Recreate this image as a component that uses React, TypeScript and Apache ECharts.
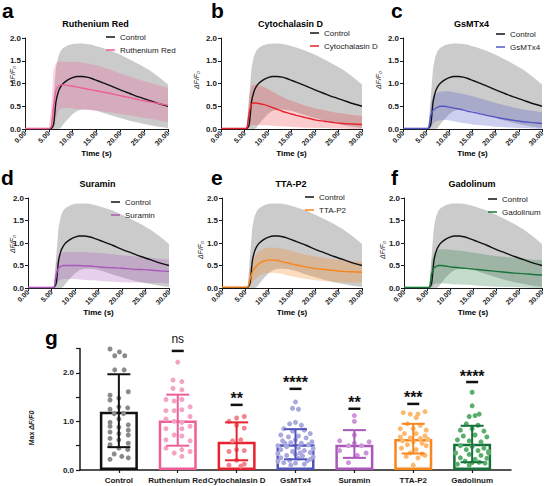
import React, { useEffect, useRef } from 'react';
import * as echarts from 'echarts';

// ---------- time-course data (ΔF/F0), shared time grid in seconds ----------
const TIME = [0, 1, 2, 3, 4, 5, 5.5, 6, 6.5, 7, 7.5, 8, 9, 10, 11, 12, 13, 14, 15, 16, 18, 20, 22, 24, 26, 28, 30];

const CTRL_MEAN = [0, 0, 0, 0, 0, 0, 0.01, 0.1, 0.6, 0.82, 0.93, 1.0, 1.08, 1.13, 1.155, 1.155, 1.14, 1.11, 1.07, 1.03, 0.95, 0.86, 0.78, 0.7, 0.63, 0.56, 0.5];
const CTRL_UP = [0.02, 0.02, 0.02, 0.02, 0.02, 0.02, 0.03, 0.7, 1.35, 1.6, 1.72, 1.78, 1.84, 1.87, 1.88, 1.88, 1.87, 1.85, 1.82, 1.79, 1.72, 1.63, 1.53, 1.42, 1.3, 1.15, 0.98];
const CTRL_LO = [0, 0, 0, 0, 0, 0, 0, 0, 0, 0, 0.02, 0.1, 0.22, 0.33, 0.4, 0.43, 0.43, 0.42, 0.4, 0.37, 0.3, 0.24, 0.18, 0.13, 0.09, 0.05, 0.02];

const RR_MEAN = [0.01, 0.01, 0.01, 0.01, 0.01, 0.01, 0.05, 0.5, 0.85, 0.94, 0.97, 0.97, 0.96, 0.94, 0.92, 0.9, 0.88, 0.86, 0.84, 0.82, 0.78, 0.73, 0.69, 0.64, 0.6, 0.56, 0.52];
const RR_UP = [0.03, 0.03, 0.03, 0.03, 0.03, 0.03, 0.5, 1.3, 1.45, 1.48, 1.48, 1.48, 1.48, 1.48, 1.47, 1.46, 1.44, 1.42, 1.4, 1.37, 1.3, 1.22, 1.15, 1.08, 1.02, 0.96, 0.9];
const RR_LO = [0, 0, 0, 0, 0, 0, 0, 0, 0.2, 0.4, 0.45, 0.46, 0.46, 0.45, 0.44, 0.43, 0.42, 0.41, 0.4, 0.39, 0.36, 0.33, 0.3, 0.26, 0.23, 0.19, 0.15];

const CYT_MEAN = [0.01, 0.01, 0.01, 0.01, 0.01, 0.01, 0.02, 0.35, 0.55, 0.57, 0.57, 0.56, 0.54, 0.51, 0.47, 0.43, 0.39, 0.36, 0.33, 0.3, 0.25, 0.2, 0.17, 0.14, 0.12, 0.11, 0.1];
const CYT_UP = [0.03, 0.03, 0.03, 0.03, 0.03, 0.03, 0.05, 0.75, 0.95, 0.97, 0.97, 0.96, 0.93, 0.88, 0.82, 0.76, 0.71, 0.66, 0.62, 0.58, 0.51, 0.45, 0.41, 0.37, 0.34, 0.31, 0.29];
const CYT_LO = [0, 0, 0, 0, 0, 0, 0, 0.02, 0.08, 0.09, 0.09, 0.09, 0.08, 0.08, 0.07, 0.06, 0.06, 0.05, 0.05, 0.04, 0.03, 0.02, 0.02, 0.01, 0.01, 0, 0];

const GSM_MEAN = [0.01, 0.01, 0.01, 0.01, 0.01, 0.01, 0.02, 0.3, 0.41, 0.45, 0.48, 0.5, 0.5, 0.48, 0.46, 0.44, 0.42, 0.39, 0.37, 0.35, 0.3, 0.26, 0.22, 0.19, 0.16, 0.14, 0.12];
const GSM_UP = [0.03, 0.03, 0.03, 0.03, 0.03, 0.03, 0.05, 0.55, 0.7, 0.76, 0.8, 0.82, 0.83, 0.83, 0.81, 0.79, 0.77, 0.75, 0.72, 0.69, 0.63, 0.57, 0.52, 0.47, 0.43, 0.4, 0.37];
const GSM_LO = [0, 0, 0, 0, 0, 0, 0, 0.05, 0.12, 0.16, 0.18, 0.19, 0.2, 0.19, 0.17, 0.15, 0.13, 0.12, 0.1, 0.09, 0.07, 0.05, 0.04, 0.03, 0.02, 0.01, 0];

const SUR_MEAN = [0.01, 0.01, 0.01, 0.01, 0.01, 0.01, 0.01, 0.3, 0.44, 0.48, 0.5, 0.5, 0.5, 0.5, 0.5, 0.49, 0.49, 0.48, 0.47, 0.46, 0.45, 0.44, 0.42, 0.41, 0.4, 0.38, 0.37];
const SUR_UP = [0.03, 0.03, 0.03, 0.03, 0.03, 0.03, 0.03, 0.55, 0.72, 0.77, 0.79, 0.8, 0.8, 0.8, 0.8, 0.8, 0.79, 0.79, 0.78, 0.77, 0.75, 0.73, 0.71, 0.69, 0.67, 0.65, 0.63];
const SUR_LO = [0, 0, 0, 0, 0, 0, 0, 0.05, 0.15, 0.19, 0.2, 0.2, 0.2, 0.2, 0.19, 0.18, 0.17, 0.17, 0.16, 0.15, 0.14, 0.13, 0.12, 0.12, 0.11, 0.11, 0.1];

const TTA_MEAN = [0.02, 0.02, 0.02, 0.02, 0.02, 0.02, 0.02, 0.2, 0.35, 0.44, 0.5, 0.55, 0.6, 0.62, 0.62, 0.61, 0.58, 0.56, 0.53, 0.51, 0.47, 0.43, 0.41, 0.39, 0.37, 0.36, 0.35];
const TTA_UP = [0.04, 0.04, 0.04, 0.04, 0.04, 0.04, 0.04, 0.4, 0.6, 0.7, 0.78, 0.83, 0.88, 0.9, 0.9, 0.89, 0.87, 0.85, 0.82, 0.79, 0.74, 0.7, 0.67, 0.64, 0.62, 0.6, 0.58];
const TTA_LO = [0, 0, 0, 0, 0, 0, 0, 0.05, 0.12, 0.18, 0.23, 0.27, 0.32, 0.34, 0.34, 0.33, 0.31, 0.28, 0.26, 0.24, 0.2, 0.17, 0.15, 0.14, 0.13, 0.12, 0.12];

const GAD_MEAN = [0.01, 0.01, 0.01, 0.01, 0.01, 0.01, 0.01, 0.3, 0.44, 0.48, 0.5, 0.5, 0.49, 0.47, 0.46, 0.45, 0.44, 0.43, 0.42, 0.41, 0.39, 0.37, 0.35, 0.33, 0.32, 0.3, 0.29];
const GAD_UP = [0.03, 0.03, 0.03, 0.03, 0.03, 0.03, 0.03, 0.6, 0.78, 0.83, 0.85, 0.86, 0.86, 0.85, 0.84, 0.83, 0.82, 0.8, 0.79, 0.77, 0.74, 0.71, 0.69, 0.67, 0.65, 0.63, 0.62];
const GAD_LO = [0, 0, 0, 0, 0, 0, 0, 0.02, 0.08, 0.1, 0.1, 0.1, 0.1, 0.09, 0.08, 0.08, 0.07, 0.07, 0.06, 0.05, 0.04, 0.03, 0.02, 0.02, 0.01, 0, 0];

const Y_TICKS_LINE = [0, 0.5, 1.0, 1.5, 2.0];
const X_TICKS_LINE = [0, 5, 10, 15, 20, 25, 30];

// ---------- bar chart (panel g) ----------
const GROUPS = ['Control', 'Ruthenium Red', 'Cytochalasin D', 'GsMTx4', 'Suramin', 'TTA-P2', 'Gadolinum'];
const MEANS = [1.2, 1.02, 0.58, 0.53, 0.52, 0.64, 0.54];
const SD_LOW = [0.47, 0.5, 0.2, 0.22, 0.25, 0.34, 0.16];
const SD_HIGH = [1.97, 1.55, 0.98, 0.84, 0.82, 0.95, 0.91];
const SIG_TEXT = ['ns', '**', '****', '**', '***', '****'];
const SIG_GROUP = [1, 2, 3, 4, 5, 6];
const SIG_Y = [2.45, 1.34, 1.67, 1.26, 1.36, 1.81];

// individual points: [x offset within group (category units), value]
const DOTS_CONTROL = [[-0.15, 2.49], [0.01, 2.43], [-0.07, 2.35], [0.1, 2.35], [-0.07, 2.06], [0.09, 2.06], [0.16, 1.61], [-0.15, 1.54], [0.0, 1.48], [-0.15, 1.44], [0.15, 1.28], [-0.15, 1.25], [0.0, 1.3], [-0.08, 1.16], [0.08, 1.16], [0.0, 1.05], [-0.15, 0.98], [0.16, 0.93], [-0.15, 0.9], [0.0, 0.88], [0.16, 0.82], [-0.15, 0.78], [0.0, 0.75], [0.16, 0.72], [-0.15, 0.65], [0.0, 0.62], [0.16, 0.55], [-0.15, 0.52], [0.0, 0.45], [0.15, 0.42], [-0.08, 0.33], [0.05, 0.28], [0.16, 0.25], [-0.15, 0.22]];
const DOTS_RR = [[0.0, 2.22], [-0.08, 1.85], [0.07, 1.82], [-0.08, 1.68], [0.07, 1.65], [-0.2, 1.45], [-0.06, 1.42], [0.07, 1.45], [0.21, 1.3], [-0.2, 1.22], [-0.06, 1.22], [0.07, 1.24], [-0.2, 1.05], [0.21, 1.1], [-0.06, 1.0], [0.07, 0.98], [-0.2, 0.85], [0.07, 0.85], [0.21, 0.9], [-0.06, 0.72], [0.07, 0.7], [-0.2, 0.62], [0.21, 0.6], [-0.2, 0.45], [0.07, 0.42], [-0.06, 0.35], [0.21, 0.38], [0.07, 0.28]];
const DOTS_CYT = [[0.13, 1.1], [0.0, 1.07], [-0.13, 1.0], [0.0, 0.92], [0.13, 0.86], [0.07, 0.62], [-0.07, 0.6], [0.13, 0.4], [0.0, 0.42], [-0.13, 0.38], [0.0, 0.2], [-0.13, 0.1], [0.07, 0.08], [0.13, 0.12]];
const DOTS_GSM = [[0.0, 1.4], [-0.05, 1.27], [0.05, 1.25], [-0.1, 0.95], [0.1, 0.92], [0.0, 0.98], [-0.2, 0.85], [0.15, 0.82], [-0.05, 0.8], [0.25, 0.75], [-0.25, 0.72], [0.05, 0.7], [-0.12, 0.68], [0.18, 0.66], [0.0, 0.62], [-0.22, 0.6], [0.28, 0.58], [-0.08, 0.56], [0.1, 0.55], [0.22, 0.52], [-0.3, 0.5], [-0.15, 0.48], [0.05, 0.46], [0.3, 0.44], [-0.25, 0.42], [0.15, 0.4], [-0.05, 0.38], [0.25, 0.36], [-0.3, 0.34], [0.0, 0.32], [-0.15, 0.3], [0.12, 0.29], [0.3, 0.27], [-0.25, 0.25], [0.05, 0.24], [-0.1, 0.2], [0.2, 0.19], [-0.2, 0.15], [0.0, 0.14], [0.15, 0.12], [-0.08, 0.1], [0.25, 0.22], [-0.3, 0.18], [0.08, 0.35], [-0.18, 0.55]];
const DOTS_SUR = [[0.0, 1.12], [0.0, 1.0], [0.0, 0.72], [-0.25, 0.6], [0.25, 0.58], [0.0, 0.55], [-0.1, 0.5], [0.12, 0.5], [-0.25, 0.4], [0.2, 0.35], [0.05, 0.3], [-0.1, 0.15]];
const DOTS_TTA = [[-0.17, 1.18], [-0.05, 1.15], [0.08, 1.15], [0.2, 1.2], [0.05, 1.08], [-0.1, 0.95], [0.12, 0.92], [-0.22, 0.85], [0.0, 0.85], [0.22, 0.82], [-0.15, 0.75], [0.05, 0.75], [0.2, 0.7], [-0.22, 0.68], [-0.05, 0.66], [0.12, 0.65], [0.25, 0.63], [-0.18, 0.6], [0.0, 0.58], [0.15, 0.55], [-0.1, 0.52], [0.22, 0.5], [-0.2, 0.45], [0.05, 0.42], [-0.05, 0.35], [0.15, 0.33], [-0.12, 0.28], [0.08, 0.25], [0.0, 0.1], [0.2, 0.3]];
const DOTS_GAD = [[0.0, 1.6], [0.0, 1.32], [-0.05, 1.1], [0.05, 1.12], [0.12, 1.15], [-0.1, 0.95], [0.1, 0.92], [-0.2, 0.82], [0.0, 0.85], [0.2, 0.8], [-0.15, 0.7], [0.05, 0.72], [0.25, 0.68], [-0.25, 0.62], [-0.05, 0.6], [0.15, 0.58], [-0.2, 0.5], [0.0, 0.48], [0.2, 0.45], [-0.1, 0.42], [0.1, 0.4], [0.28, 0.38], [-0.28, 0.35], [-0.05, 0.32], [0.15, 0.3], [-0.2, 0.25], [0.05, 0.22], [0.25, 0.24], [-0.12, 0.18], [0.0, 0.15], [0.12, 0.16], [0.22, 0.14], [-0.25, 0.12], [-0.05, 0.1], [0.28, 0.35]];
const ALL_DOTS = [DOTS_CONTROL, DOTS_RR, DOTS_CYT, DOTS_GSM, DOTS_SUR, DOTS_TTA, DOTS_GAD];
const BAR_Y_TICKS = [0, 0.5, 1.0, 1.5, 2.0, 2.5];

// ---------- styling / layout ----------
const FONT = 'Liberation Sans, Arial, Helvetica, sans-serif';
const INK = '#1a1a1a';
const BAR_COLORS = ['#111111', '#ef5f97', '#e8222c', '#4f53ba', '#a957b9', '#f7861c', '#16703a'];
const DOT_COLORS = ['#8a8a8a', '#f5a3c2', '#f2858e', '#a9a9df', '#cd95d7', '#fcb96e', '#5aae6c'];

const PANELS = [
  { letter: 'a', name: 'Ruthenium Red', mean: RR_MEAN, up: RR_UP, lo: RR_LO, color: '#ef5f97', band: 'rgba(240,95,150,0.28)' },
  { letter: 'b', name: 'Cytochalasin D', mean: CYT_MEAN, up: CYT_UP, lo: CYT_LO, color: '#e8222c', band: 'rgba(235,40,50,0.24)' },
  { letter: 'c', name: 'GsMTx4', mean: GSM_MEAN, up: GSM_UP, lo: GSM_LO, color: '#5558c4', band: 'rgba(90,95,200,0.3)' },
  { letter: 'd', name: 'Suramin', mean: SUR_MEAN, up: SUR_UP, lo: SUR_LO, color: '#a957b9', band: 'rgba(170,85,185,0.28)' },
  { letter: 'e', name: 'TTA-P2', mean: TTA_MEAN, up: TTA_UP, lo: TTA_LO, color: '#f7861c', band: 'rgba(247,134,28,0.28)' },
  { letter: 'f', name: 'Gadolinum', mean: GAD_MEAN, up: GAD_UP, lo: GAD_LO, color: '#17753a', band: 'rgba(30,120,60,0.26)' },
];

const GRIDS = [
  { left: 25, top: 38, width: 143, height: 91 },
  { left: 221, top: 38, width: 141, height: 91 },
  { left: 403, top: 38, width: 139, height: 91 },
  { left: 28, top: 198, width: 141, height: 90 },
  { left: 222, top: 198, width: 140, height: 90 },
  { left: 404, top: 198, width: 138, height: 90 },
];
const LEGEND_POS = [
  { left: 106, top: 32 },
  { left: 310, top: 28 },
  { left: 496, top: 29 },
  { left: 111, top: 197 },
  { left: 305, top: 192 },
  { left: 488, top: 194 },
];
const LETTER_POS = [[2, 10.7], [211, 10.7], [391, 10.7], [1, 177.7], [211, 177.7], [391, 177.7]];
const YNAME_POS = [[12, 75], [196, 80], [378, 80], [12, 244], [200, 250], [382, 250]];
const BAR_GRID = { left: 80, top: 348.5, width: 431, height: 121.5 };

function bandSeries(idx: number, up: number[], lo: number[], color: string, z: number) {
  return {
    type: 'custom',
    xAxisIndex: idx,
    yAxisIndex: idx,
    silent: true,
    z,
    data: TIME.map((t, k) => [t, lo[k], up[k]]),
    encode: { x: 0, y: [1, 2] },
    renderItem: (params: any, api: any) => {
      if (params.dataIndex !== 0) return null;
      const top = TIME.map((t, k) => api.coord([t, up[k]]));
      const bot = TIME.map((t, k) => api.coord([t, lo[k]])).reverse();
      return { type: 'polygon', shape: { points: top.concat(bot) }, style: { fill: color } };
    },
  };
}

function lineSeries(idx: number, name: string, vals: number[], color: string, z: number) {
  return {
    type: 'line',
    name,
    xAxisIndex: idx,
    yAxisIndex: idx,
    data: TIME.map((t, k) => [t, vals[k]]),
    showSymbol: false,
    symbol: 'none',
    smooth: 0.25,
    silent: true,
    z,
    lineStyle: { color, width: 1.4 },
    itemStyle: { color },
  };
}

function buildOption() {
  const grids: any[] = [];
  const xAxes: any[] = [];
  const yAxes: any[] = [];
  const series: any[] = [];
  const legends: any[] = [];
  const graphics: any[] = [];

  PANELS.forEach((p, i) => {
    const g = GRIDS[i];
    grids.push({ ...g, outerBoundsMode: 'none', containLabel: false });
    xAxes.push({
      type: 'value', gridIndex: i, min: 0, max: 30, interval: 5,
      axisLine: { show: true, onZero: false, lineStyle: { color: INK, width: 1 } },
      axisTick: { show: true, length: 3, lineStyle: { color: INK, width: 1 } },
      axisLabel: {
        rotate: 45, margin: 3, fontSize: 7, fontWeight: 'bold', color: INK, fontFamily: FONT,
        customValues: X_TICKS_LINE,
        formatter: (v: number) => v.toFixed(2),
      },
      splitLine: { show: false },
    });
    yAxes.push({
      type: 'value', gridIndex: i, min: 0, max: 2, interval: 0.5,
      axisLine: { show: true, onZero: false, lineStyle: { color: INK, width: 1 } },
      axisTick: { show: true, length: 3, lineStyle: { color: INK, width: 1 } },
      axisLabel: {
        margin: 4, fontSize: 8, fontWeight: 'bold', color: INK, fontFamily: FONT,
        customValues: Y_TICKS_LINE,
        formatter: (v: number) => v.toFixed(1),
      },
      splitLine: { show: false },
    });
    series.push(bandSeries(i, CTRL_UP, CTRL_LO, '#cbcbcb', 1));
    series.push(bandSeries(i, p.up, p.lo, p.band, 2));
    series.push(lineSeries(i, 'Control', CTRL_MEAN, '#111111', 4));
    series.push(lineSeries(i, p.name, p.mean, p.color, 5));
    legends.push({
      data: ['Control', p.name],
      orient: 'vertical',
      left: LEGEND_POS[i].left,
      top: LEGEND_POS[i].top,
      icon: 'rect',
      itemWidth: 9,
      itemHeight: 1.5,
      itemGap: 3,
      selectedMode: false,
      padding: 0,
      textStyle: { fontSize: 8, color: INK, fontFamily: FONT, lineHeight: 10 },
    });
    const cx = g.left + g.width / 2;
    graphics.push({
      type: 'text', x: LETTER_POS[i][0], y: LETTER_POS[i][1],
      style: { text: p.letter, font: `bold 21px ${FONT}`, fill: '#000', align: 'left', verticalAlign: 'middle' },
    });
    graphics.push({
      type: 'text', x: cx - 1, y: g.top - 14.5,
      style: { text: p.name, font: `bold 9px ${FONT}`, fill: '#000', align: 'center', verticalAlign: 'middle' },
    });
    graphics.push({
      type: 'text', x: cx, y: g.top + g.height + 24,
      style: { text: 'Time (s)', font: `bold 8px ${FONT}`, fill: '#000', align: 'center', verticalAlign: 'middle' },
    });
    graphics.push({
      type: 'text', x: YNAME_POS[i][0], y: YNAME_POS[i][1], rotation: Math.PI / 2,
      style: { text: 'ΔF/F₀', font: `italic 7px ${FONT}`, fill: INK, align: 'center', verticalAlign: 'middle' },
    });
  });

  // ---- panel g ----
  const gi = 6;
  grids.push({ ...BAR_GRID, outerBoundsMode: 'none', containLabel: false });
  xAxes.push({
    type: 'value', gridIndex: gi, min: -0.66, max: 6.66,
    axisLine: { show: true, onZero: false, lineStyle: { color: INK, width: 1.5 } },
    axisTick: { show: true, length: 3, customValues: [0, 1, 2, 3, 4, 5, 6], lineStyle: { color: INK, width: 1.2 } },
    axisLabel: {
      margin: 6, fontSize: 8, fontWeight: 'bold', color: INK, fontFamily: FONT,
      customValues: [0, 1, 2, 3, 4, 5, 6],
      formatter: (v: number) => GROUPS[Math.round(v)] ?? '',
    },
    splitLine: { show: false },
  });
  yAxes.push({
    type: 'value', gridIndex: gi, min: 0, max: 2.5, interval: 0.5,
    axisLine: { show: true, onZero: false, lineStyle: { color: INK, width: 1.5 } },
    axisTick: { show: true, length: 4, customValues: BAR_Y_TICKS, lineStyle: { color: INK, width: 1.2 } },
    axisLabel: {
      margin: 6, fontSize: 8, fontWeight: 'bold', color: INK, fontFamily: FONT,
      customValues: [0, 1, 2],
      formatter: (v: number) => v.toFixed(1),
    },
    splitLine: { show: false },
  });
  series.push({
    type: 'bar', xAxisIndex: gi, yAxisIndex: gi, barWidth: 38, silent: true, z: 2,
    data: MEANS.map((m, k) => ({ value: [k, m], itemStyle: { borderColor: BAR_COLORS[k] } })),
    itemStyle: { color: 'rgba(255,255,255,0)', borderWidth: 2.5 },
  });
  ALL_DOTS.forEach((dots, k) => {
    series.push({
      type: 'scatter', name: 'dots-' + GROUPS[k], xAxisIndex: gi, yAxisIndex: gi, silent: true, z: 3,
      symbolSize: 5,
      itemStyle: { color: DOT_COLORS[k], opacity: 1 },
      data: dots.map(([o, v]) => [k + o, v]),
    });
  });
  series.push({
    type: 'custom', xAxisIndex: gi, yAxisIndex: gi, silent: true, z: 4,
    data: MEANS.map((_, k) => [k, SD_LOW[k], SD_HIGH[k]]),
    encode: { x: 0, y: [1, 2] },
    renderItem: (params: any, api: any) => {
      const k = api.value(0);
      const lo = api.coord([k, api.value(1)]);
      const hi = api.coord([k, api.value(2)]);
      const c = BAR_COLORS[params.dataIndex];
      const hw = 11.5;
      const st = { stroke: c, lineWidth: 2 };
      return {
        type: 'group',
        children: [
          { type: 'line', shape: { x1: lo[0], y1: lo[1], x2: hi[0], y2: hi[1] }, style: st },
          { type: 'line', shape: { x1: hi[0] - hw, y1: hi[1], x2: hi[0] + hw, y2: hi[1] }, style: st },
          { type: 'line', shape: { x1: lo[0] - hw, y1: lo[1], x2: lo[0] + hw, y2: lo[1] }, style: st },
        ],
      };
    },
  });
  series.push({
    type: 'custom', xAxisIndex: gi, yAxisIndex: gi, silent: true, z: 5,
    data: SIG_GROUP.map((k, j) => [k, SIG_Y[j]]),
    encode: { x: 0, y: 1 },
    renderItem: (params: any, api: any) => {
      const p = api.coord([api.value(0), api.value(1)]);
      const label = SIG_TEXT[params.dataIndex];
      const isNs = label === 'ns';
      return {
        type: 'group',
        children: [
          { type: 'line', shape: { x1: p[0] - 6, y1: p[1], x2: p[0] + 6, y2: p[1] }, style: { stroke: '#111', lineWidth: 2.5 } },
          {
            type: 'text', x: p[0], y: p[1] - (isNs ? 12 : 6),
            style: {
              text: label, fill: '#111', align: 'center', verticalAlign: 'middle',
              font: isNs ? `12px ${FONT}` : `bold 16px ${FONT}`,
            },
          },
        ],
      };
    },
  });
  graphics.push({
    type: 'text', x: 45, y: 337.7,
    style: { text: 'g', font: `bold 21px ${FONT}`, fill: '#000', align: 'left', verticalAlign: 'middle' },
  });
  graphics.push({
    type: 'text', x: 31, y: 428, rotation: Math.PI / 2,
    style: {
      text: '{a|Max }{b|ΔF/F0}', align: 'center', verticalAlign: 'middle',
      rich: {
        a: { font: `bold 7px ${FONT}`, fill: INK },
        b: { font: `italic bold 7px ${FONT}`, fill: INK },
      },
    },
  });

  return {
    animation: false,
    backgroundColor: '#ffffff',
    grid: grids,
    xAxis: xAxes,
    yAxis: yAxes,
    legend: legends,
    series,
    graphic: graphics,
  };
}

export default function App() {
  const ref = useRef<HTMLDivElement>(null);
  useEffect(() => {
    if (!ref.current) return;
    const chart = echarts.init(ref.current, undefined, { renderer: 'svg', width: 546, height: 486 });
    chart.setOption(buildOption() as any);
    return () => chart.dispose();
  }, []);
  return <div ref={ref} style={{ position: 'fixed', left: 0, top: 0, width: 546, height: 486, background: '#fff' }} />;
}
